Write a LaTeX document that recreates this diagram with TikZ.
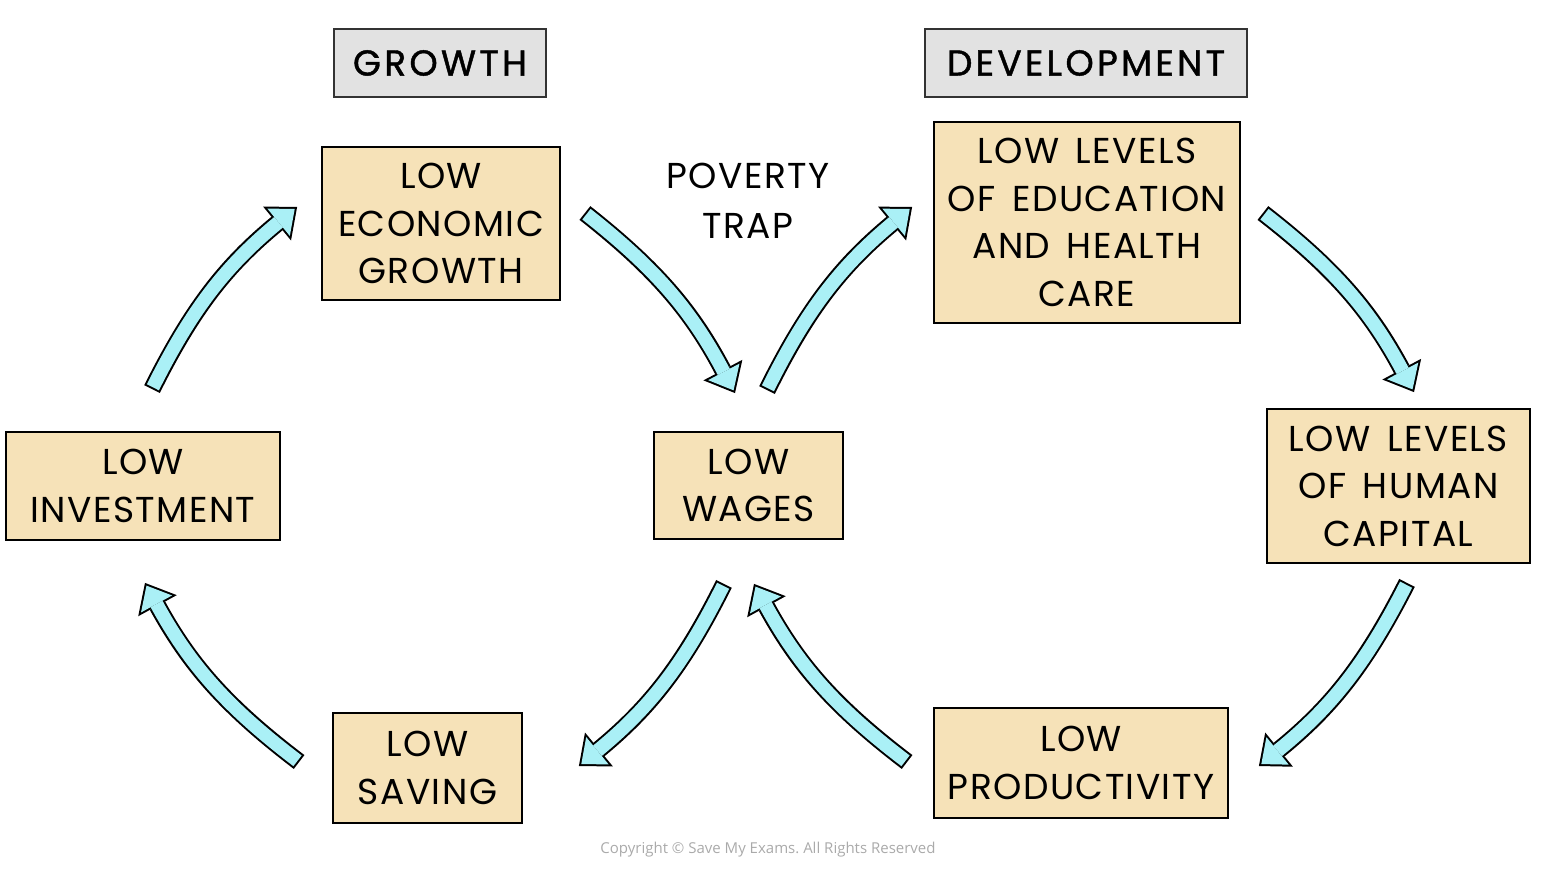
\documentclass[tikz,border=0pt]{standalone}
\usepackage{fontspec}
\setmainfont{Poppins}[LetterSpace=4,WordSpace=1.5]
\newfontfamily\headfont{Poppins}[FakeBold=1.2,LetterSpace=9]
\newfontfamily\copyfont{Open Sans}
\usetikzlibrary{arrows.meta}
\definecolor{boxtan}{HTML}{F6E2B8}
\definecolor{headgray}{HTML}{E2E2E2}
\definecolor{headframe}{HTML}{333333}
\definecolor{arrowcyan}{HTML}{AAF0F6}
\definecolor{copygray}{HTML}{AAAAAA}
\tikzset{
  cyclebox/.style={draw=black, line width=1.8pt, fill=boxtan, align=center, inner sep=0pt,
    font=\fontsize{36}{47.5}\selectfont},
  headbox/.style={draw=headframe, line width=1.8pt, fill=headgray, inner sep=0pt,
    minimum height=68pt, font=\headfont\fontsize{36}{40}\selectfont},
  arrowrim/.style={draw=black, line width=17.5pt,
    -{Triangle[length=26pt,width=44pt,line width=0pt]}},
  arrowbody/.style={draw=arrowcyan, line width=13.5pt, shorten <=2pt, shorten >=3.1pt,
    -{Triangle[length=20.9pt,width=35.4pt,line width=0pt]}}
}
\begin{document}
\begin{tikzpicture}[x=1pt,y=1pt]
  \useasboundingbox (0,0) rectangle (1542,-872);
  % headings
  \node[headbox, minimum width=212pt] (growthhead) at (440,-63) {GROWTH};
  \node[headbox, minimum width=322pt] (develhead) at (1086,-63) {DEVELOPMENT};
  % the two cycles share the low wages box
  \node[cyclebox, minimum width=238pt, minimum height=153pt] (lowgrowth) at (441,-223.5) {LOW\\ECONOMIC\\GROWTH};
  \node[cyclebox, minimum width=306pt, minimum height=201pt] (lowedu) at (1087,-222.5) {LOW LEVELS\\OF EDUCATION\\AND HEALTH\\CARE};
  \node[cyclebox, minimum width=274pt, minimum height=108pt] (lowinv) at (143,-486) {LOW\\INVESTMENT};
  \node[cyclebox, minimum width=189pt, minimum height=107pt] (lowwages) at (748.5,-485.5) {LOW\\WAGES};
  \node[cyclebox, minimum width=263pt, minimum height=154pt] (lowhuman) at (1398.5,-486) {LOW LEVELS\\OF HUMAN\\CAPITAL};
  \node[cyclebox, minimum width=189pt, minimum height=110pt] (lowsaving) at (427.5,-768) {LOW\\SAVING};
  \node[cyclebox, minimum width=294pt, minimum height=110pt] (lowprod) at (1081,-763) {LOW\\PRODUCTIVITY};
  \node[align=center, font=\fontsize{36}{50}\selectfont] (traplabel) at (748,-201) {POVERTY\\TRAP};
  % curved arrows: black rim first, cyan body on top
  \foreach \fromnode/\fx/\fy/\tonode/\tx/\ty in {
      lowinv.north/9/42/lowgrowth.west/-24/16.5,
      lowgrowth.east/24/10.5/lowwages.north/-13.5/38,
      lowwages.north/18.5/41/lowedu.west/-21/15.5,
      lowedu.east/22/9.5/lowhuman.north/15.5/16,
      lowhuman.south/8.5/-19/lowprod.east/30/-3,
      lowprod.west/-26/1/lowwages.south/5.5/-44,
      lowwages.south/-24.5/-44/lowsaving.east/56/2,
      lowsaving.west/-33/6/lowinv.south/2/-42} {
    \draw[arrowrim] ([shift={(\fx,\fy)}]\fromnode) to[bend left=12] ([shift={(\tx,\ty)}]\tonode);
    \draw[arrowbody] ([shift={(\fx,\fy)}]\fromnode) to[bend left=12] ([shift={(\tx,\ty)}]\tonode);
  }
  \node[font=\copyfont\fontsize{15}{17}\selectfont\frenchspacing, text=copygray] (copyright) at (768,-850) {Copyright © Save My Exams. All Rights Reserved};
\end{tikzpicture}
\end{document}
